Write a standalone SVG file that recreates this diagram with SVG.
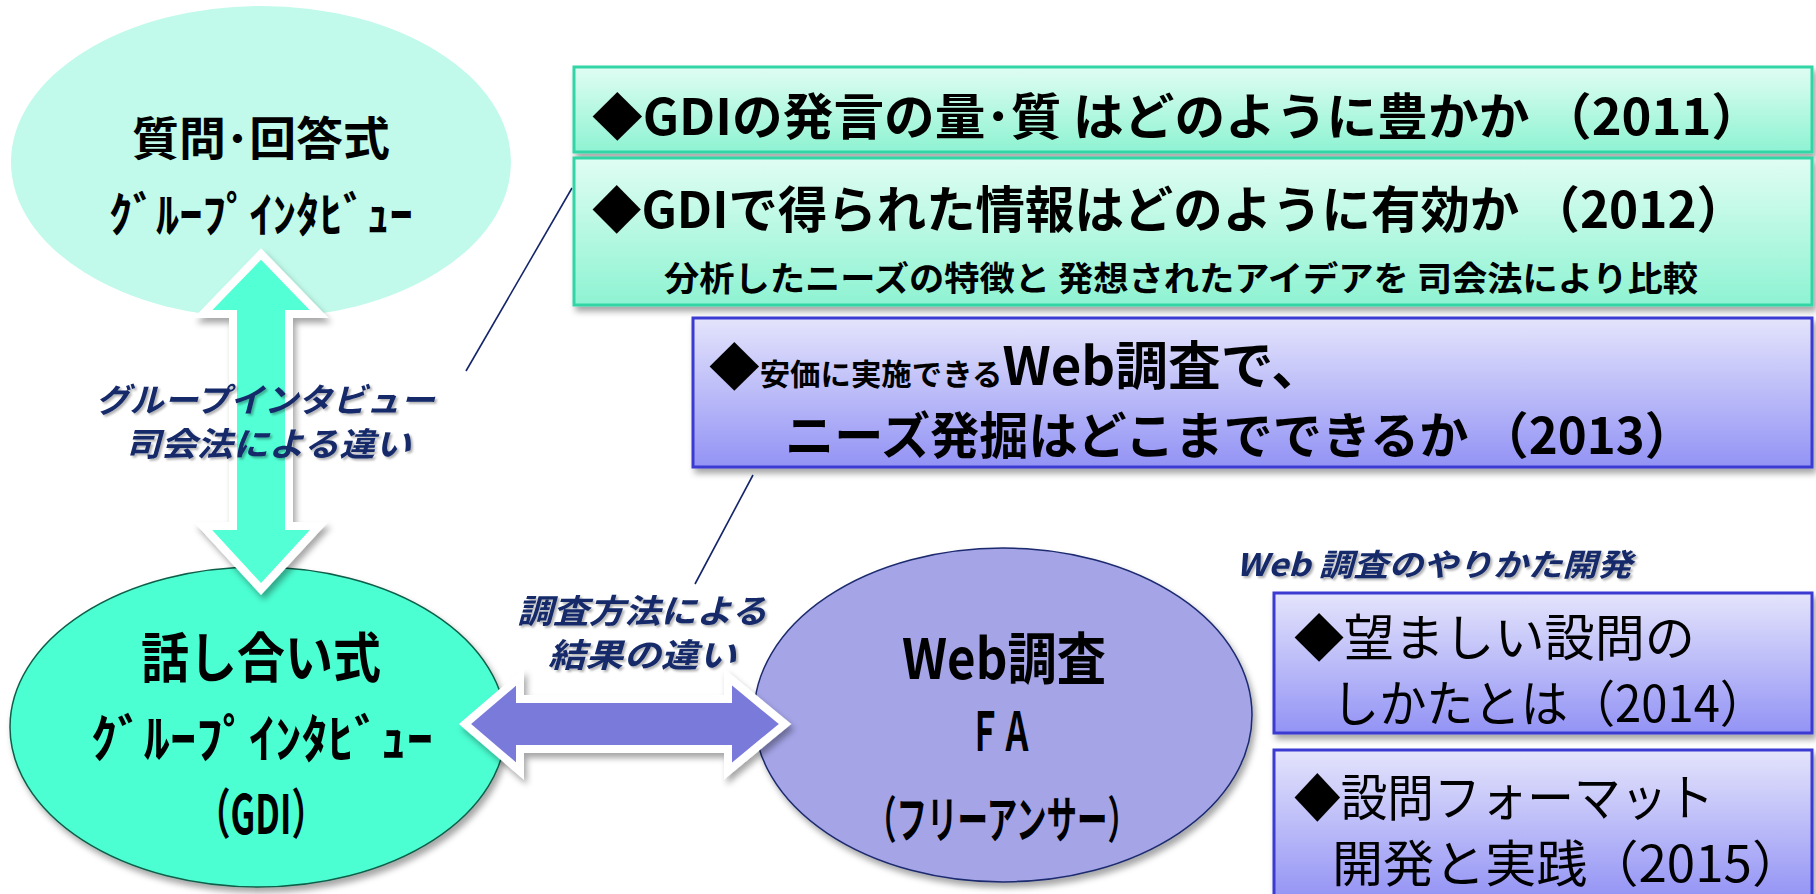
<svg xmlns="http://www.w3.org/2000/svg" width="1816" height="894" viewBox="0 0 1816 894">
<defs>
<linearGradient id="gGreen" x1="0" y1="0" x2="0" y2="1">
<stop offset="0" stop-color="#E0FDF3"/>
<stop offset="1" stop-color="#8EF3D2"/>
</linearGradient>
<linearGradient id="gBlue" x1="0" y1="0" x2="0" y2="1">
<stop offset="0" stop-color="#E4E4FC"/>
<stop offset="1" stop-color="#9393F5"/>
</linearGradient>
<filter id="sh" x="-10%" y="-10%" width="125%" height="130%">
<feDropShadow dx="3" dy="5" stdDeviation="3" flood-color="#000" flood-opacity="0.35"/>
</filter>
<filter id="tsh" x="-5%" y="-20%" width="115%" height="150%">
<feDropShadow dx="2" dy="2" stdDeviation="1.2" flood-color="#000" flood-opacity="0.3"/>
</filter>
</defs>
<style>
text{font-family:"Noto Sans CJK JP","Noto Sans",sans-serif;fill:#000;dominant-baseline:central}
.b{font-weight:bold}
.r{font-weight:normal}
.alpha{dominant-baseline:alphabetic}
.lab{font-weight:bold;font-style:italic;fill:#14296B;filter:url(#tsh)}
.boxG{fill:url(#gGreen);stroke:#33D6A6;stroke-width:3;filter:url(#sh)}
.boxB{fill:url(#gBlue);stroke:#3A3AD2;stroke-width:3;filter:url(#sh)}
.arr{stroke:#fff;stroke-width:8;stroke-linejoin:miter;filter:url(#sh)}
.con{stroke:#14246A;stroke-width:1.6;fill:none}
</style>

<g id="node-qa">
<ellipse cx="261" cy="162" rx="250" ry="156" fill="#C1FAEA"/>
<text class="b" x="261" y="135" font-size="46" text-anchor="middle" textLength="258" lengthAdjust="spacingAndGlyphs">質問･回答式</text>
<text class="b" x="261" y="211" font-size="48" text-anchor="middle" textLength="304" lengthAdjust="spacingAndGlyphs">ｸﾞﾙｰﾌﾟｲﾝﾀﾋﾞｭｰ</text>
</g>

<g id="node-gdi">
<ellipse cx="258" cy="727" rx="248" ry="160" fill="#4CFFD2" stroke="#0F5E48" stroke-width="1.5" filter="url(#sh)"/>
<text class="b" x="261" y="654" font-size="54" text-anchor="middle" textLength="240" lengthAdjust="spacingAndGlyphs">話し合い式</text>
<text class="b" x="262" y="735" font-size="52" text-anchor="middle" textLength="342" lengthAdjust="spacingAndGlyphs">ｸﾞﾙｰﾌﾟｲﾝﾀﾋﾞｭｰ</text>
<text class="b" x="261" y="810" font-size="54" text-anchor="middle" textLength="130" lengthAdjust="spacingAndGlyphs">（GDI）</text>
</g>

<g id="node-web">
<ellipse cx="1003" cy="715" rx="249" ry="167" fill="#A4A4E7" stroke="#1C2A6E" stroke-width="1.5" filter="url(#sh)"/>
<text class="b" x="1004" y="654" font-size="56" text-anchor="middle" textLength="204" lengthAdjust="spacingAndGlyphs">Web調査</text>
<text class="b" x="1001" y="727" font-size="54" text-anchor="middle" textLength="64" lengthAdjust="spacingAndGlyphs">ＦＡ</text>
<text class="b" x="1002" y="816" font-size="50" text-anchor="middle" textLength="272" lengthAdjust="spacingAndGlyphs">（フリーアンサー）</text>
</g>

<g id="connectors">
<polygon class="arr" fill="#52FFD5" points="261,254 319,314 289,314 289,526 319,526 261,589 203,526 233,526 233,314 203,314"/>
<polygon class="arr" fill="#7A7ADB" points="465,724 520,677 520,699 728,699 728,677 785,724 728,771 728,749 520,749 520,771"/>
<line class="con" x1="466" y1="371" x2="572" y2="188"/>
<line class="con" x1="753" y1="475" x2="695" y2="584"/>
</g>

<g id="label-moderator">
<text class="lab" x="265" y="398" font-size="33" text-anchor="middle" textLength="339" lengthAdjust="spacingAndGlyphs">グループインタビュー</text>
<text class="lab" x="268" y="442" font-size="33" text-anchor="middle" textLength="286" lengthAdjust="spacingAndGlyphs">司会法による違い</text>
</g>

<g id="label-method">
<text class="lab" x="642" y="609" font-size="33" text-anchor="middle" textLength="250" lengthAdjust="spacingAndGlyphs">調査方法による</text>
<text class="lab" x="642" y="653" font-size="33" text-anchor="middle" textLength="188" lengthAdjust="spacingAndGlyphs">結果の違い</text>
</g>

<g id="box-2011">
<rect class="boxG" x="574" y="67" width="1238" height="85"/>
<text class="b" x="592" y="113" font-size="50" textLength="1170" lengthAdjust="spacingAndGlyphs">◆GDIの発言の量･質 はどのように豊かか （2011）</text>
</g>

<g id="box-2012">
<rect class="boxG" x="574" y="158" width="1238" height="147"/>
<text class="b" x="592" y="206" font-size="50" textLength="1154" lengthAdjust="spacingAndGlyphs">◆GDIで得られた情報はどのように有効か （2012）</text>
<text class="b" x="664" y="276" font-size="34" textLength="1034" lengthAdjust="spacingAndGlyphs">分析したニーズの特徴と 発想されたアイデアを 司会法により比較</text>
</g>

<g id="box-2013">
<rect class="boxB" x="693" y="318" width="1119" height="149"/>
<text class="b alpha" x="709" y="385" textLength="615" lengthAdjust="spacingAndGlyphs"><tspan font-size="50">◆</tspan><tspan font-size="30">安価に実施できる</tspan><tspan font-size="52">Web調査で、</tspan></text>
<text class="b" x="785" y="432" font-size="50" textLength="909" lengthAdjust="spacingAndGlyphs">ニーズ発掘はどこまでできるか （2013）</text>
</g>

<g id="label-webdev">
<text class="lab" x="1236" y="562" font-size="31" textLength="396" lengthAdjust="spacingAndGlyphs">Web 調査のやりかた開発</text>
</g>

<g id="box-2014">
<rect class="boxB" x="1274" y="593" width="538" height="140"/>
<text class="r" x="1294" y="634" font-size="50" textLength="401" lengthAdjust="spacingAndGlyphs">◆望ましい設問の</text>
<text class="r" x="1332" y="700" font-size="50" textLength="435" lengthAdjust="spacingAndGlyphs">しかたとは（2014）</text>
</g>

<g id="box-2015">
<rect class="boxB" x="1274" y="750" width="538" height="150"/>
<text class="r" x="1294" y="794" font-size="50" textLength="420" lengthAdjust="spacingAndGlyphs">◆設問フォーマット</text>
<text class="r" x="1332" y="860" font-size="50" textLength="471" lengthAdjust="spacingAndGlyphs">開発と実践（2015）</text>
</g>
</svg>
